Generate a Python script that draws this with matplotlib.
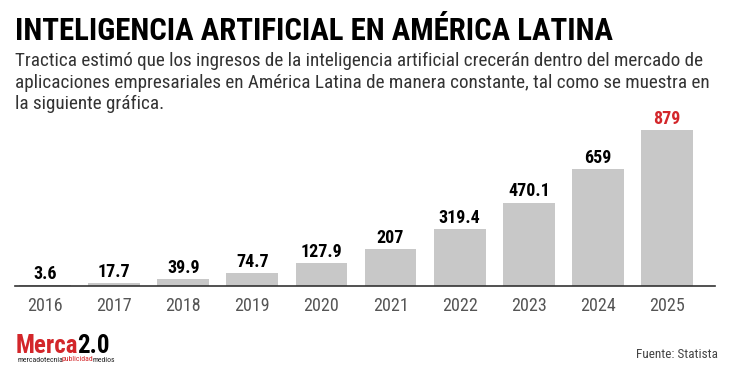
import matplotlib.pyplot as plt
from matplotlib import font_manager

# data
years = ['2016', '2017', '2018', '2019', '2020', '2021', '2022', '2023', '2024', '2025']
values = [3.6, 17.7, 39.9, 74.7, 127.9, 207, 319.4, 470.1, 659, 879]
labels = ['3.6', '17.7', '39.9', '74.7', '127.9', '207', '319.4', '470.1', '659', '879']
subtitle_lines = [
    'Tractica estimó que los ingresos de la inteligencia artificial crecerán dentro del mercado de',
    'aplicaciones empresariales en América Latina de manera constante, tal como se muestra en',
    'la siguiente gráfica.',
]

# pick a narrow face if one is installed
names = {f.name for f in font_manager.fontManager.ttflist}
narrow = 'DejaVu Sans'
for cand in ['Roboto Condensed', 'Liberation Sans Narrow', 'DejaVu Sans Condensed']:
    if cand in names:
        narrow = cand
        break

W, H = 731, 378
RED = '#d3262a'
fig = plt.figure(figsize=(W / 100, H / 100), dpi=100)
fig.patch.set_facecolor('white')

# axes placed in pixel terms: x 15..715, y 110..286
ax = fig.add_axes([15 / W, (H - 286) / H, 700 / W, 176 / H])
x = list(range(len(years)))
ax.bar(x, values, width=0.75, color='#c8c8c8')
ax.set_xlim(-0.434, 9.695)
ax.set_ylim(0, 879 * 176 / 156)

for i, (v, lab) in enumerate(zip(values, labels)):
    col = RED if i == len(values) - 1 else 'black'
    ax.annotate(lab, (i, v), xytext=(0, 1.5), textcoords='offset points',
                ha='center', va='bottom', fontsize=13, fontweight='heavy',
                family=narrow, color=col)

ax.set_xticks(x)
ax.set_xticklabels(years, fontsize=13, color='#555555', family=narrow)
ax.tick_params(axis='x', length=0, pad=8)
ax.set_yticks([])
for s in ['top', 'left', 'right']:
    ax.spines[s].set_visible(False)
ax.spines['bottom'].set_color('#333333')
ax.spines['bottom'].set_linewidth(1.2)

# header
fig.text(15 / W, 1 - 39.5 / H, 'INTELIGENCIA ARTIFICIAL EN AMÉRICA LATINA',
         fontsize=22.2, fontweight='heavy', family=narrow, va='baseline', ha='left')
for k, line in enumerate(subtitle_lines):
    fig.text(15 / W, 1 - (66 + 21.5 * k) / H, line, fontsize=13.8, color='#333333',
             va='baseline', ha='left', family=narrow)

# footer: logo pieces chained left to right
renderer = fig.canvas.get_renderer()


def chain(pieces, x0, y0, size, weight, family):
    xp = x0
    for txt, col in pieces:
        t = fig.text(xp / W, 1 - y0 / H, txt, fontsize=size, fontweight=weight,
                     color=col, family=family, va='baseline', ha='left')
        bb = t.get_window_extent(renderer)
        xp += bb.width - 1


chain([('Merca', RED), ('2.0', 'black')], 16, 353, 18, 'bold', narrow)
chain([('mercadotecnia', '#222222'), ('publicidad', RED), ('medios', '#222222')],
      17, 361.5, 5.6, 'normal', narrow)

fig.text(718 / W, 1 - 355 / H, 'Fuente: Statista', fontsize=9.5, color='#444444',
         va='center', ha='right', family=narrow)

plt.savefig('out.png', dpi=100)
